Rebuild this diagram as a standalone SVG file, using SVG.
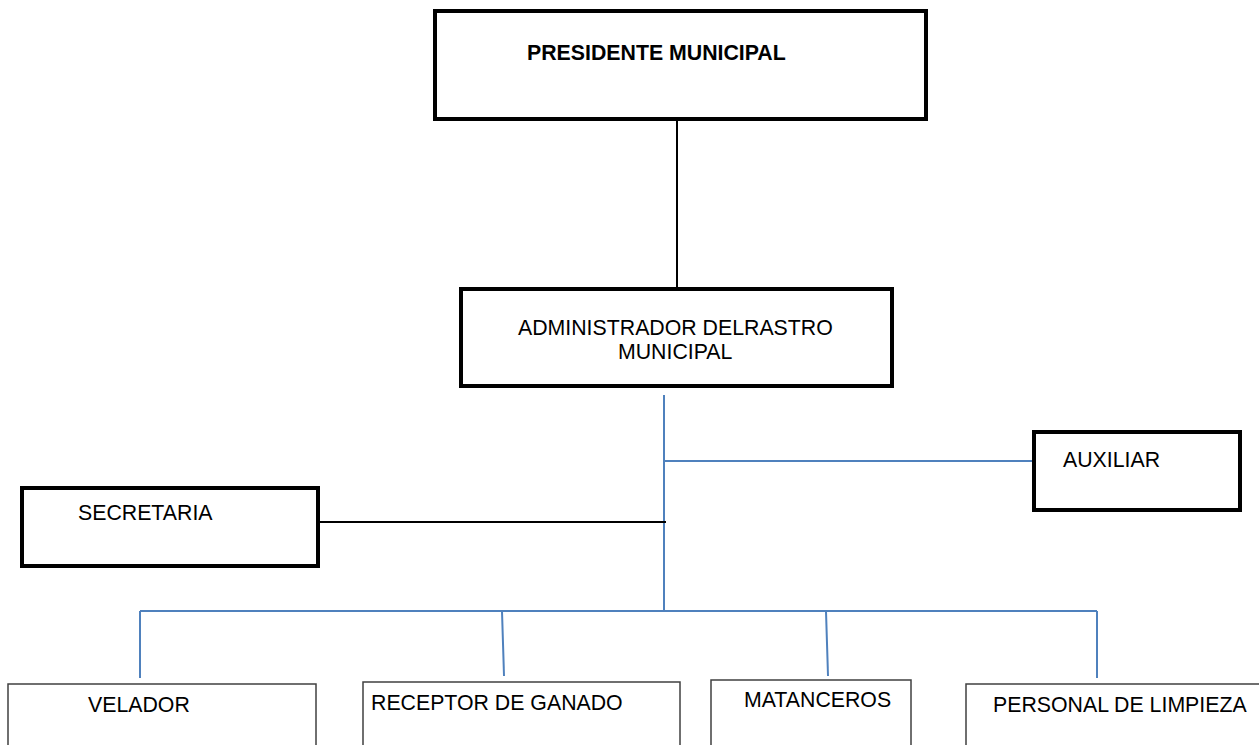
<svg xmlns="http://www.w3.org/2000/svg" width="1259" height="745" viewBox="0 0 1259 745">
<style>
.thick{fill:#fff;stroke:#000;stroke-width:4}
.thin{fill:#fff;stroke:#404040;stroke-width:1.5}
.t{font-family:"Liberation Sans",Arial,sans-serif;font-size:21.3px;fill:#000}
.b{font-weight:bold}
.blue{stroke:#4f81bd;stroke-width:2;fill:none}
.blk{stroke:#000;stroke-width:2;fill:none}
</style>
<rect width="1259" height="745" fill="#fff"/>
<g id="connectors">
<line class="blk" x1="677" y1="120" x2="677" y2="288"/>
<line class="blue" x1="664" y1="395" x2="664" y2="611"/>
<line class="blue" x1="664" y1="461" x2="1033" y2="461"/>
<line class="blk" x1="318" y1="522" x2="666" y2="522"/>
<line class="blue" x1="140" y1="611" x2="1097" y2="611"/>
<line class="blue" x1="140" y1="611" x2="140" y2="678"/>
<line class="blue" x1="502" y1="611" x2="504" y2="676"/>
<line class="blue" x1="826" y1="611" x2="828" y2="676"/>
<line class="blue" x1="1097" y1="611" x2="1097" y2="678"/>
</g>
<g id="presidente">
<rect class="thick" x="435" y="11" width="491" height="108"/>
<text class="t b" x="527" y="60">PRESIDENTE MUNICIPAL</text>
</g>
<g id="administrador">
<rect class="thick" x="461" y="289" width="431" height="97"/>
<text class="t" x="518" y="335">ADMINISTRADOR DELRASTRO</text>
<text class="t" x="618" y="359">MUNICIPAL</text>
</g>
<g id="auxiliar">
<rect class="thick" x="1034" y="432" width="206" height="78"/>
<text class="t" x="1063" y="467">AUXILIAR</text>
</g>
<g id="secretaria">
<rect class="thick" x="22" y="488" width="296" height="78"/>
<text class="t" x="78" y="520">SECRETARIA</text>
</g>
<g id="velador">
<rect class="thin" x="8" y="684" width="308" height="80"/>
<text class="t" x="88" y="712">VELADOR</text>
</g>
<g id="receptor">
<rect class="thin" x="363" y="682" width="317" height="80"/>
<text class="t" x="371" y="710">RECEPTOR DE GANADO</text>
</g>
<g id="matanceros">
<rect class="thin" x="711" y="680" width="200" height="80"/>
<text class="t" x="744" y="707">MATANCEROS</text>
</g>
<g id="personal">
<rect class="thin" x="966" y="684" width="300" height="80"/>
<text class="t" x="993" y="712">PERSONAL DE LIMPIEZA</text>
</g>
</svg>
